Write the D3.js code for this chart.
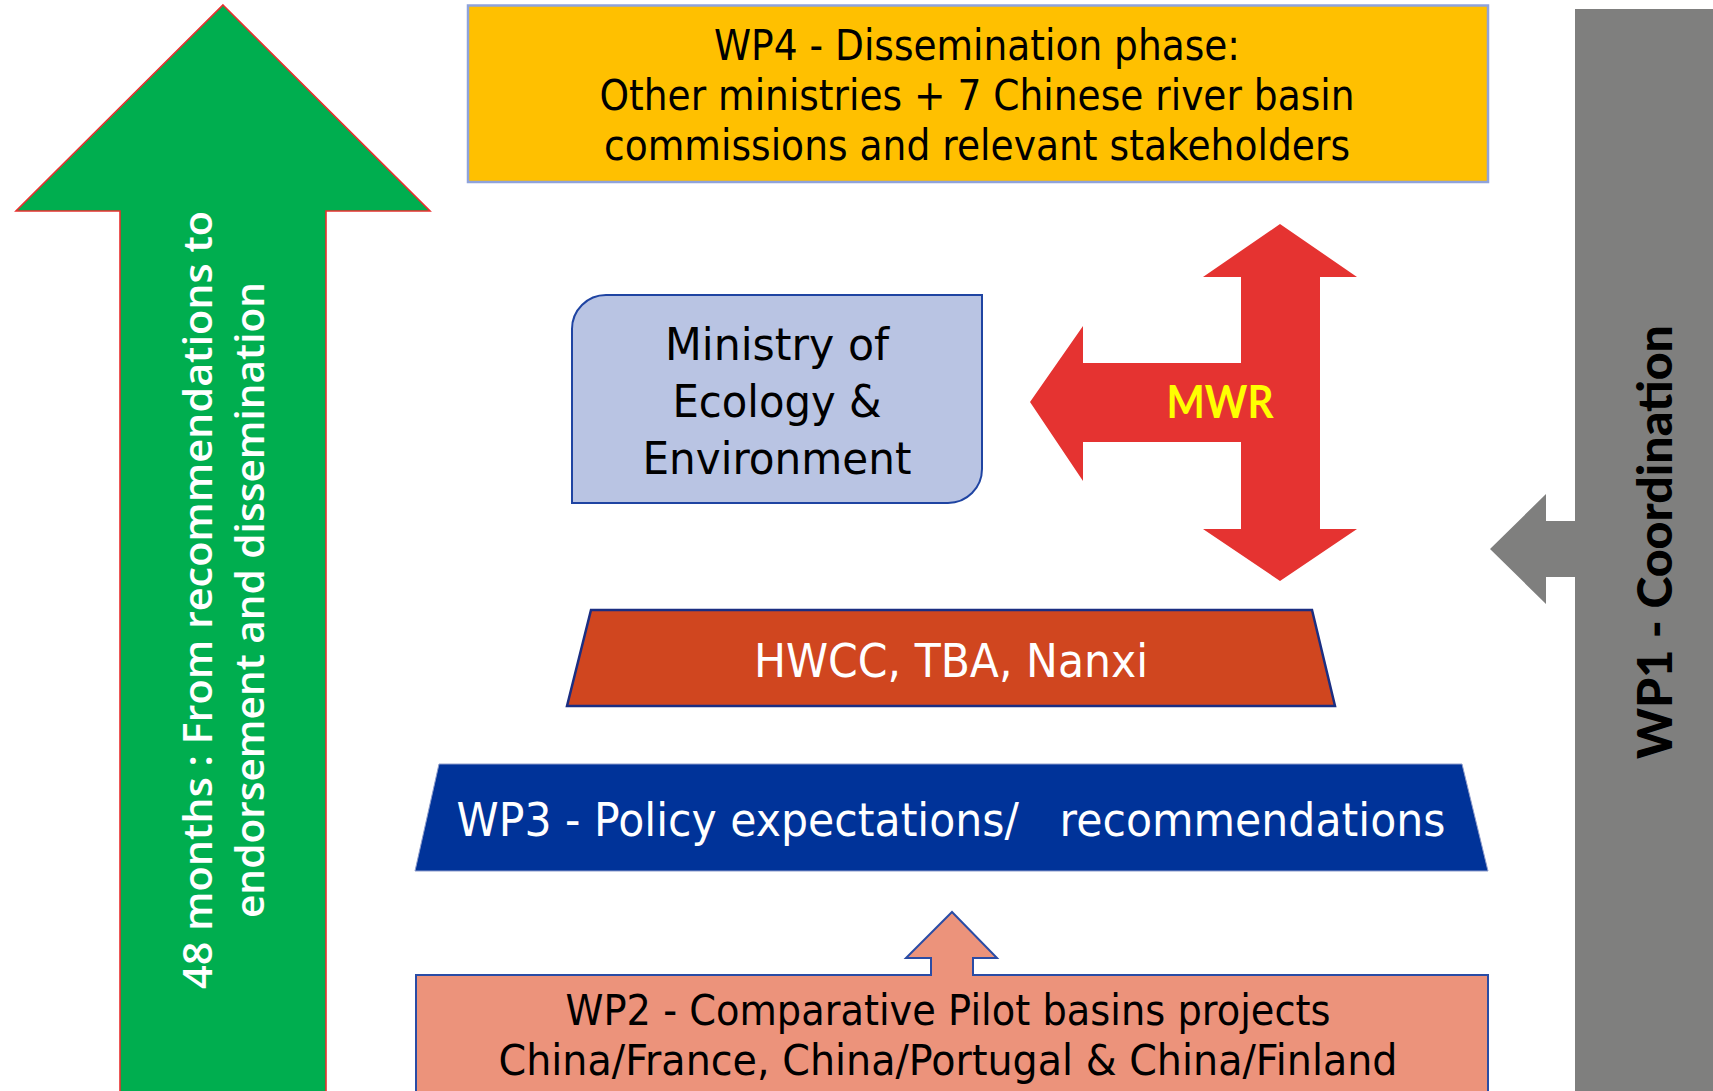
<!DOCTYPE html>
<html>
<head>
<meta charset="utf-8">
<script src="https://cdn.jsdelivr.net/npm/d3@7"></script>
<style>
  html, body { margin: 0; padding: 0; background: #fff; overflow: hidden; }
  text { white-space: pre; }
</style>
</head>
<body>
<div id="chart"></div>
<script>
// Labels of the diagram, one list per block
var wp4Lines = ["WP4 - Dissemination phase:", "Other ministries + 7 Chinese river basin", "commissions and relevant stakeholders"];
var ministryLines = ["Ministry of", "Ecology &", "Environment"];
var hwccLines = ["HWCC, TBA, Nanxi"];
var wp3Lines = ["WP3 - Policy expectations/   recommendations"];
var wp2Lines = ["WP2 - Comparative Pilot basins projects", "China/France, China/Portugal & China/Finland"];
var timelineLines = ["48 months : From recommendations to", "endorsement and dissemination"];
var wp1Lines = ["WP1 - Coordination"];
var mwrLines = ["MWR"];

var width = 1713,
    height = 1091;

// slide units -> pixels
var x = d3.scaleLinear().domain([0, 1713]).range([0, width]),
    y = d3.scaleLinear().domain([0, 1091]).range([0, height]);

var svg = d3.select("#chart").append("svg")
    .attr("width", width)
    .attr("height", height);

svg.append("rect")
    .attr("width", width)
    .attr("height", height)
    .attr("fill", "#fff");

function poly(pts) {
  var line = d3.line().x(function(p) { return x(p[0]); }).y(function(p) { return y(p[1]); });
  return line(pts) + "Z";
}

function upArrow(cx, tip, headBase, headHalf, shaftHalf, bottom) {
  return poly([
    [cx, tip], [cx + headHalf, headBase], [cx + shaftHalf, headBase], [cx + shaftHalf, bottom],
    [cx - shaftHalf, bottom], [cx - shaftHalf, headBase], [cx - headHalf, headBase]
  ]);
}

// Draw a block of text lines, centred, each line squeezed to its width
function textBlock(g, lines, opts) {
  var t = g.append("g")
      .attr("transform", "translate(" + x(opts.cx) + "," + y(opts.cy) + ")" + (opts.rotate ? " rotate(" + opts.rotate + ")" : ""));
  var n = lines.length;
  t.selectAll("text")
      .data(lines)
    .enter().append("text")
      .attr("x", 0)
      .attr("y", function(d, i) { return (i - (n - 1) / 2) * opts.step; })
      .attr("dy", "0.36em")
      .attr("text-anchor", "middle")
      .attr("font-family", opts.font)
      .attr("font-weight", opts.weight || "normal")
      .attr("font-size", opts.size)
      .attr("fill", opts.color)
      .attr("textLength", function(d, i) { return opts.widths ? opts.widths[i] : null; })
      .attr("lengthAdjust", "spacingAndGlyphs")
      .text(function(d) { return d; });
}

var tahoma = "'DejaVu Sans', Verdana, sans-serif";

// Green time arrow
svg.append("path")
    .attr("d", upArrow(223, 5, 211, 207, 103, 1100))
    .attr("fill", "#00AE4F")
    .attr("stroke", "#E8302F")
    .attr("stroke-width", 1.6);

textBlock(svg, timelineLines, {
  cx: 224, cy: 600, rotate: -90, step: 52, size: 40,
  font: "'Open Sans', sans-serif", weight: 600, color: "#fff", widths: [778, 636]
});

// WP4 box
svg.append("rect")
    .attr("x", x(468)).attr("y", y(5.5))
    .attr("width", x(1488) - x(468)).attr("height", y(182) - y(5.5))
    .attr("fill", "#FFC000")
    .attr("stroke", "#8FA3DB")
    .attr("stroke-width", 2.5);

textBlock(svg, wp4Lines, {
  cx: 977, cy: 95, step: 50, size: 42, font: tahoma, color: "#000", widths: [526, 755, 746]
});

// WP1 grey bar and its arrow
svg.append("rect")
    .attr("x", x(1575)).attr("y", y(9))
    .attr("width", x(1713) - x(1575)).attr("height", y(1091) - y(9))
    .attr("fill", "#7F7F7E");

svg.append("path")
    .attr("d", poly([[1490, 549], [1546, 494], [1546, 521], [1580, 521], [1580, 577], [1546, 577], [1546, 604]]))
    .attr("fill", "#7F7F7E");

textBlock(svg, wp1Lines, {
  cx: 1655, cy: 542, rotate: -90, step: 0, size: 47,
  font: "Lato, sans-serif", weight: 900, color: "#000", widths: [434]
});

// Ministry of Ecology & Environment
var mx0 = 572, mx1 = 982, my0 = 295, my1 = 503, r = 34;
svg.append("path")
    .attr("d", "M" + x(mx0) + "," + y(my0 + r) +
      " A" + r + "," + r + " 0 0 1 " + x(mx0 + r) + "," + y(my0) +
      " L" + x(mx1) + "," + y(my0) +
      " L" + x(mx1) + "," + y(my1 - r) +
      " A" + r + "," + r + " 0 0 1 " + x(mx1 - r) + "," + y(my1) +
      " L" + x(mx0) + "," + y(my1) + "Z")
    .attr("fill", "#B9C4E3")
    .attr("stroke", "#1F44A2")
    .attr("stroke-width", 2);

textBlock(svg, ministryLines, {
  cx: 777, cy: 401, step: 57, size: 44, font: tahoma, color: "#000", widths: [224, 209, 269]
});

// MWR red arrow
svg.append("path")
    .attr("d", poly([
      [1280, 224], [1357, 277], [1320, 277], [1320, 529], [1357, 529], [1280, 581], [1203, 529],
      [1241, 529], [1241, 442], [1083, 442], [1083, 481], [1030, 402], [1083, 326], [1083, 363],
      [1241, 363], [1241, 277], [1203, 277]
    ]))
    .attr("fill", "#E53331");

textBlock(svg, mwrLines, {
  cx: 1220, cy: 402, step: 0, size: 45, font: "Lato, sans-serif", weight: "bold", color: "#FFFF00", widths: [107]
});

// HWCC trapezoid
svg.append("path")
    .attr("d", poly([[591, 610], [1312, 610], [1335, 706], [567, 706]]))
    .attr("fill", "#D0461F")
    .attr("stroke", "#1B2E82")
    .attr("stroke-width", 2.5);

textBlock(svg, hwccLines, {
  cx: 951, cy: 660, step: 0, size: 47, font: tahoma, color: "#fff", widths: [394]
});

// WP3 trapezoid
svg.append("path")
    .attr("d", poly([[439, 764], [1462, 764], [1488, 871], [415, 871]]))
    .attr("fill", "#003399")
    .attr("stroke", "#8E9CCB")
    .attr("stroke-width", 1);

textBlock(svg, wp3Lines, {
  cx: 951, cy: 819, step: 0, size: 47, font: tahoma, color: "#fff", widths: [989]
});

// WP2 box with small arrow on top
svg.append("path")
    .attr("d", poly([
      [416, 1100], [416, 975], [931, 975], [931, 958], [906, 958], [952, 912], [997, 958],
      [973, 958], [973, 975], [1488, 975], [1488, 1100]
    ]))
    .attr("fill", "#EC937B")
    .attr("stroke", "#2A4CA5")
    .attr("stroke-width", 2);

textBlock(svg, wp2Lines, {
  cx: 948, cy: 1035, step: 50, size: 42, font: tahoma, color: "#000", widths: [765, 899]
});
</script>
</body>
</html>
